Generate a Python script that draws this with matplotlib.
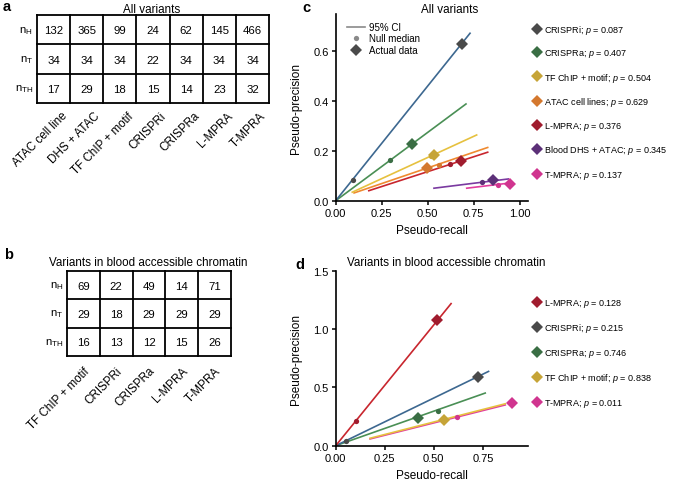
import numpy as np
import matplotlib
matplotlib.use("Agg")
import matplotlib.pyplot as plt
from matplotlib.lines import Line2D

plt.rcParams['font.family'] = ['Liberation Sans', 'DejaVu Sans']
plt.rcParams['mathtext.fontset'] = 'custom'
plt.rcParams['mathtext.rm'] = 'Liberation Sans'
plt.rcParams['mathtext.it'] = 'Liberation Sans:italic'

# ---- data ----
rows = ["n$_\\mathregular{H}$", "n$_\\mathregular{T}$", "n$_\\mathregular{TH}$"]

cols_a = ["ATAC cell line", "DHS + ATAC", "TF ChIP + motif", "CRISPRi", "CRISPRa", "L-MPRA", "T-MPRA"]
nH_a = [132, 365, 99, 24, 62, 145, 466]
nT_a = [34, 34, 34, 22, 34, 34, 34]
nTH_a = [17, 29, 18, 15, 14, 23, 32]

cols_b = ["TF ChIP + motif", "CRISPRi", "CRISPRa", "L-MPRA", "T-MPRA"]
nH_b = [69, 22, 49, 14, 71]
nT_b = [29, 18, 29, 29, 29]
nTH_b = [16, 13, 12, 15, 26]

methods_c = ["CRISPRi", "CRISPRa", "TF ChIP + motif", "ATAC cell lines", "L-MPRA", "Blood DHS + ATAC", "T-MPRA"]
p_c = ["0.087", "0.407", "0.504", "0.629", "0.376", "0.345", "0.137"]
ci_lo_x_c = [0.0, 0.0, 0.09, 0.10, 0.18, 0.534, 0.712]
ci_lo_y_c = [0.0, 0.0, 0.034, 0.031, 0.040, 0.050, 0.050]
ci_hi_x_c = [0.73, 0.708, 0.766, 0.826, 0.826, 0.938, 0.96]
ci_hi_y_c = [0.67, 0.387, 0.263, 0.213, 0.194, 0.087, 0.072]
null_x_c = [0.092, 0.295, 0.52, 0.561, 0.621, 0.797, 0.884]
null_y_c = [0.084, 0.163, 0.18, 0.144, 0.147, 0.076, 0.064]
act_x_c = [0.685, 0.413, 0.532, 0.498, 0.679, 0.853, 0.947]
act_y_c = [0.627, 0.227, 0.183, 0.130, 0.158, 0.084, 0.067]

methods_d = ["L-MPRA", "CRISPRi", "CRISPRa", "TF ChIP + motif", "T-MPRA"]
p_d = ["0.128", "0.215", "0.746", "0.838", "0.011"]
ci_lo_x_d = [0.0, 0.0, 0.0, 0.175, 0.175]
ci_lo_y_d = [0.0, 0.0, 0.0, 0.064, 0.058]
ci_hi_x_d = [0.588, 0.779, 0.762, 0.864, 0.864]
ci_hi_y_d = [1.22, 0.638, 0.452, 0.36, 0.35]
null_x_d = [0.104, 0.053, 0.519, 0.55, 0.62]
null_y_d = [0.21, 0.040, 0.302, 0.222, 0.25]
act_x_d = [0.515, 0.723, 0.417, 0.553, 0.90]
act_y_d = [1.078, 0.59, 0.239, 0.224, 0.365]

mk_col = {"CRISPRi": "#4a4a4a", "CRISPRa": "#3a6e44", "TF ChIP + motif": "#c6a437",
          "ATAC cell lines": "#d4782e", "L-MPRA": "#a01c2e", "Blood DHS + ATAC": "#5c3078",
          "T-MPRA": "#d0358f"}
ln_col = {"CRISPRi": "#3d6890", "CRISPRa": "#4a8f55", "TF ChIP + motif": "#e6c13f",
          "ATAC cell lines": "#ef8a30", "L-MPRA": "#c8262e", "Blood DHS + ATAC": "#7a3aa0",
          "T-MPRA": "#e23c9f"}

W, H = 680, 481
fig = plt.figure(figsize=(6.8, 4.81), dpi=100)


def box(l, t, r, b):
    return [l / W, 1 - b / H, (r - l) / W, (b - t) / H]


def draw_table(ax, cols, vals, dx, dy):
    nc = len(cols)
    ax.set_xlim(0, nc)
    ax.set_ylim(3, 0)
    ax.axis('off')
    for i in range(nc + 1):
        ax.plot([i, i], [0, 3], color='k', lw=1.3, clip_on=False, solid_capstyle='projecting')
    for j in range(4):
        ax.plot([0, nc], [j, j], color='k', lw=1.3, clip_on=False, solid_capstyle='projecting')
    for j, v in enumerate(vals):
        ax.text(-0.12, j + 0.5, rows[j], ha='right', va='center', fontsize=8.2)
        for i in range(nc):
            ax.text(i + 0.5, j + 0.52, str(v[i]), ha='center', va='center', fontsize=8.2)
    for i, c in enumerate(cols):
        ax.text(i + dx, 3 + dy, c, rotation=45, ha='right', va='top',
                rotation_mode='anchor', fontsize=8.4)


ax_a = fig.add_axes(box(37, 16, 269, 104))
draw_table(ax_a, cols_a, [nH_a, nT_a, nTH_a], 0.72, 0.22)
fig.text(152 / W, 1 - 10 / H, "All variants", ha='center', va='center', fontsize=8.4)

ax_b = fig.add_axes(box(67, 272, 231, 357))
draw_table(ax_b, cols_b, [nH_b, nT_b, nTH_b], 0.5, 0.3)
fig.text(148 / W, 1 - 263 / H, "Variants in blood accessible chromatin", ha='center', va='center', fontsize=8.4)


def draw_pr(ax, methods, lx0, ly0, lx1, ly1, nx, ny, ax_, ay_):
    for k in reversed(range(len(methods))):
        m = methods[k]
        ax.plot([lx0[k], lx1[k]], [ly0[k], ly1[k]], color=ln_col[m], lw=1.2, zorder=2)
        ax.plot(nx[k], ny[k], 'o', color=mk_col[m], ms=3.8, mew=0, zorder=3)
        ax.plot(ax_[k], ay_[k], 'D', color=mk_col[m], ms=6, mew=0, zorder=4)
    for s in ['top', 'right']:
        ax.spines[s].set_visible(False)
    for s in ['left', 'bottom']:
        ax.spines[s].set_linewidth(1.2)
    ax.tick_params(direction='out', length=3, width=1.1, labelsize=8, pad=2)
    ax.set_xlabel("Pseudo-recall", fontsize=8.5)
    ax.set_ylabel("Pseudo-precision", fontsize=8.5)


ax_c = fig.add_axes(box(335.7, 15, 528, 201.7))
draw_pr(ax_c, methods_c, ci_lo_x_c, ci_lo_y_c, ci_hi_x_c, ci_hi_y_c, null_x_c, null_y_c, act_x_c, act_y_c)
ax_c.set_xlim(0, 1.045)
ax_c.set_ylim(0, 0.747)
ax_c.set_xticks([0, 0.25, 0.5, 0.75, 1.0])
ax_c.set_xticklabels(["0.00", "0.25", "0.50", "0.75", "1.00"])
ax_c.set_yticks([0, 0.2, 0.4, 0.6])
ax_c.set_yticklabels(["0.0", "0.2", "0.4", "0.6"])
ax_c.xaxis.set_label_coords(0.5, -0.125)
ax_c.yaxis.set_label_coords(-0.175, 0.5)
fig.text(450 / W, 1 - 10 / H, "All variants", ha='center', va='center', fontsize=8.4)

key = [Line2D([], [], color='#8a8a8a', lw=1.2),
       Line2D([], [], marker='o', color='#8a8a8a', ms=3.8, mew=0, ls='none'),
       Line2D([], [], marker='D', color='#4a4a4a', ms=6, mew=0, ls='none')]
ax_c.legend(key, ["95% CI", "Null median", "Actual data"], loc='upper left',
            bbox_to_anchor=(347 / W, 1 - 23 / H), bbox_transform=fig.transFigure,
            frameon=False, fontsize=7, handlelength=1.9, handletextpad=0.35,
            labelspacing=0.15, borderpad=0, borderaxespad=0)

hc = [Line2D([], [], marker='D', color=mk_col[m], ms=5.8, mew=0, ls='none') for m in methods_c]
lc = [m + "; $p$ = " + p for m, p in zip(methods_c, p_c)]
fig.legend(hc, lc, loc='upper left', bbox_to_anchor=(532 / W, 1 - 24 / H),
           frameon=False, fontsize=6.5, handlelength=1.0, handletextpad=0.3,
           labelspacing=1.25, borderpad=0, borderaxespad=0)

ax_d = fig.add_axes(box(335.7, 272, 528, 446.7))
draw_pr(ax_d, methods_d, ci_lo_x_d, ci_lo_y_d, ci_hi_x_d, ci_hi_y_d, null_x_d, null_y_d, act_x_d, act_y_d)
ax_d.set_xlim(0, 0.98)
ax_d.set_ylim(0, 1.5)
ax_d.set_xticks([0, 0.25, 0.5, 0.75])
ax_d.set_xticklabels(["0.00", "0.25", "0.50", "0.75"])
ax_d.set_yticks([0, 0.5, 1.0, 1.5])
ax_d.set_yticklabels(["0.0", "0.5", "1.0", "1.5"])
ax_d.xaxis.set_label_coords(0.5, -0.133)
ax_d.yaxis.set_label_coords(-0.175, 0.5)
fig.text(446 / W, 1 - 263 / H, "Variants in blood accessible chromatin", ha='center', va='center', fontsize=8.4)

hd = [Line2D([], [], marker='D', color=mk_col[m], ms=5.8, mew=0, ls='none') for m in methods_d]
ld = [m + "; $p$ = " + p for m, p in zip(methods_d, p_d)]
fig.legend(hd, ld, loc='upper left', bbox_to_anchor=(532 / W, 1 - 297 / H),
           frameon=False, fontsize=6.5, handlelength=1.0, handletextpad=0.3,
           labelspacing=1.37, borderpad=0, borderaxespad=0)

for lab, x, y in [("a", 3, 7), ("b", 4, 255), ("c", 302, 8), ("d", 295, 265)]:
    fig.text(x / W, 1 - y / H, lab, fontsize=10.5, fontweight='bold', ha='left', va='center')

fig.savefig("out.png", dpi=100)
